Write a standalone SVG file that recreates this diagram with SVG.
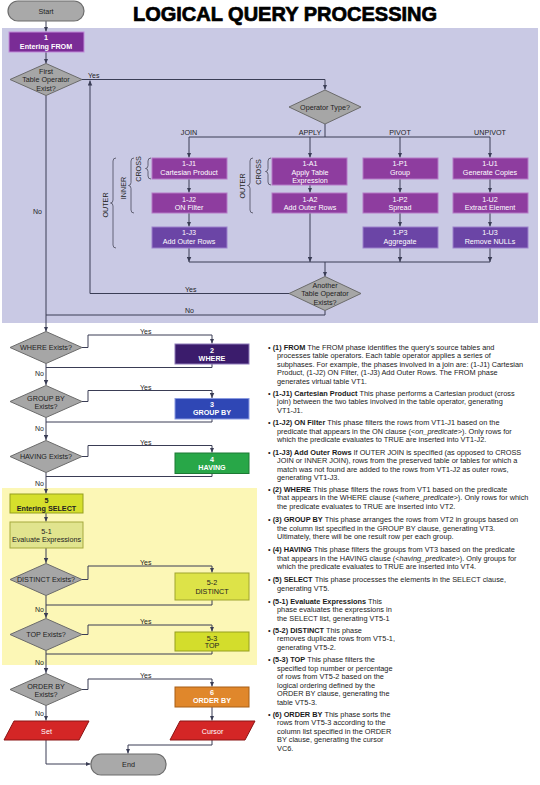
<svg xmlns="http://www.w3.org/2000/svg" width="540" height="785" viewBox="0 0 540 785">
<defs>
<marker id="ah" viewBox="0 0 6 6" refX="6" refY="3" markerWidth="5" markerHeight="5" orient="auto" markerUnits="userSpaceOnUse"><path d="M0,0.3 L6,3 L0,5.7 z" fill="#3a3d55"/></marker>
<style>
text{font-family:"Liberation Sans",Arial,sans-serif}
.c{fill:none;stroke:#3a3d55;stroke-width:1}
.ca{fill:none;stroke:#3a3d55;stroke-width:1;marker-end:url(#ah)}
.dia{fill:#a6a6a6;stroke:#6b6b6b;stroke-width:1}
.term{fill:#a9a9a9;stroke:#6d6d6d;stroke-width:1.2}
.lbl{font-size:7.2px;fill:#1e1e1e;text-anchor:middle}
.pm{fill:#8e3d9f;stroke:#b57ac6;stroke-width:1}
.pb{fill:#6b45a6;stroke:#9d82cc;stroke-width:1}
.wt{font-size:7.2px;fill:#fff;text-anchor:middle}
.wb{font-size:7.2px;fill:#fff;text-anchor:middle;font-weight:bold}
.dk{font-size:7.2px;fill:#222;text-anchor:middle}
.dkb{font-size:7.2px;fill:#222;text-anchor:middle;font-weight:bold}
.side{font-size:7.35px;fill:#1a1a1a}
.yn{font-size:7px;fill:#1e1e1e}
.brace{fill:none;stroke:#4a4a5a;stroke-width:0.8}
.red{fill:#d42626;stroke:#8a1414;stroke-width:1}
</style>
</defs>
<rect x="0" y="0" width="540" height="785" fill="#ffffff"/>
<rect x="2" y="28" width="536" height="295" fill="#c9c9e4"/>
<rect x="2" y="488" width="255" height="177" fill="#fcf7b6"/>
<text x="285" y="21" font-size="20" font-weight="900" text-anchor="middle" fill="#000" stroke="#000" stroke-width="0.7">LOGICAL QUERY PROCESSING</text>

<g id="connectors">
<path class="ca" d="M46,21 V31.5"/>
<path class="ca" d="M46,52 V63.5"/>
<path class="ca" d="M82,79.5 H325 V89.5"/>
<path class="ca" d="M90,293.5 V80.5"/>
<path class="c" d="M325,124 V137 M189,137 H490"/>
<path class="ca" d="M189,137 V157.5"/>
<path class="ca" d="M310,137 V157.5"/>
<path class="ca" d="M400,137 V157.5"/>
<path class="ca" d="M490,137 V157.5"/>
<path class="ca" d="M189,179 V192.5"/>
<path class="ca" d="M189,213 V226.5"/>
<path class="ca" d="M310,185 V192.5"/>
<path class="ca" d="M400,179 V192.5"/>
<path class="ca" d="M400,213 V226.5"/>
<path class="ca" d="M490,179 V192.5"/>
<path class="ca" d="M490,213 V226.5"/>
<path class="c" d="M189,262 H490"/>
<path class="ca" d="M189,248 V262"/>
<path class="ca" d="M310,213 V262"/>
<path class="ca" d="M400,248 V262"/>
<path class="ca" d="M490,248 V262"/>
<path class="ca" d="M325,262 V276.5"/>
<path class="c" d="M289,293.5 H90"/>
<path class="c" d="M325,310.5 V315 H46"/>
<path class="ca" d="M46,95.5 V331.5"/>
<path class="ca" d="M82,347.5 H88 V335 H212 V343.5"/>
<path class="c" d="M212,364 V367.5 H46"/>
<path class="ca" d="M46,363.5 V385"/>
<path class="ca" d="M82,401.5 H88 V390.5 H212 V398"/>
<path class="c" d="M212,419 V422 H46"/>
<path class="ca" d="M46,417.5 V440"/>
<path class="ca" d="M82,456.5 H88 V445.5 H212 V452.5"/>
<path class="c" d="M212,473.5 V476.5 H46"/>
<path class="ca" d="M46,472.5 V493.5"/>
<path class="ca" d="M46,513 V521.5"/>
<path class="ca" d="M46,548 V563"/>
<path class="ca" d="M82,579.5 H88 V566 H212 V572.5"/>
<path class="c" d="M212,600 V605 H46"/>
<path class="ca" d="M46,595.5 V618"/>
<path class="ca" d="M82,634.5 H88 V625 H212 V631.5"/>
<path class="c" d="M212,651 V654 H46"/>
<path class="ca" d="M46,650.5 V673"/>
<path class="ca" d="M82,689.5 H88 V679 H212 V686.5"/>
<path class="ca" d="M46,705.5 V720.5"/>
<path class="ca" d="M212,707 V720.5"/>
<path class="ca" d="M46,740 V764 H90.5"/>
<path class="ca" d="M212,740 V745 H128 V753.5"/>
</g>

<g id="labels">
<text class="yn" x="88" y="78">Yes</text>
<text class="yn" x="33" y="214">No</text>
<text class="yn" x="185" y="292">Yes</text>
<text class="yn" x="185" y="313">No</text>
<text class="yn" x="140" y="334">Yes</text>
<text class="yn" x="35" y="375.5">No</text>
<text class="yn" x="140" y="389.5">Yes</text>
<text class="yn" x="35" y="430.5">No</text>
<text class="yn" x="140" y="444.5">Yes</text>
<text class="yn" x="35" y="485.5">No</text>
<text class="yn" x="140" y="565">Yes</text>
<text class="yn" x="35" y="611.5">No</text>
<text class="yn" x="140" y="624">Yes</text>
<text class="yn" x="35" y="664.5">No</text>
<text class="yn" x="140" y="678">Yes</text>
<text class="yn" x="35" y="715.5">No</text>
<text class="lbl" x="189" y="135">JOIN</text>
<text class="lbl" x="310" y="135">APPLY</text>
<text class="lbl" x="400" y="135">PIVOT</text>
<text class="lbl" x="490" y="135">UNPIVOT</text>
</g>

<g id="braces">
<path class="brace" d="M151,158 Q148,158 148,161 V165.5 Q148,168.5 145.5,168.5 Q148,168.5 148,171.5 V176 Q148,179 151,179"/>
<path class="brace" d="M134,158 Q131,158 131,161 V182.5 Q131,185.5 128.5,185.5 Q131,185.5 131,188.5 V210 Q131,213 134,213"/>
<path class="brace" d="M116,158 Q113,158 113,161 V200 Q113,203 110.5,203 Q113,203 113,206 V245 Q113,248 116,248"/>
<path class="brace" d="M253,158 Q250,158 250,161 V182.5 Q250,185.5 247.5,185.5 Q250,185.5 250,188.5 V210 Q250,213 253,213"/>
<path class="brace" d="M271,158 Q268,158 268,161 V168.5 Q268,171.5 265.5,171.5 Q268,171.5 268,174.5 V182 Q268,185 271,185"/>
<text class="lbl" transform="translate(140.5,169) rotate(-90)">CROSS</text>
<text class="lbl" transform="translate(125.5,188) rotate(-90)">INNER</text>
<text class="lbl" transform="translate(107.5,205) rotate(-90)">OUTER</text>
<text class="lbl" transform="translate(244.5,186) rotate(-90)">OUTER</text>
<text class="lbl" transform="translate(260.5,172) rotate(-90)">CROSS</text>
</g>

<g id="start"><rect class="term" x="8" y="1" width="76" height="20" rx="10"/><text class="lbl" x="46" y="13.5">Start</text></g>
<g id="n1"><rect x="9" y="32" width="75" height="20" fill="#7a2c96" stroke="#c08ad8"/><text class="wb" x="46" y="40">1</text><text class="wb" x="46" y="48.5">Entering FROM</text></g>
<g id="d-first"><polygon class="dia" points="46,63.5 82,79.5 46,95.5 10,79.5"/><text class="lbl" x="46" y="73.5">First</text><text class="lbl" x="46" y="82">Table Operator</text><text class="lbl" x="46" y="90.5">Exist?</text></g>
<g id="d-optype"><polygon class="dia" points="325,90 361,107 325,124 289,107"/><text class="lbl" x="325" y="109.5">Operator Type?</text></g>

<g id="j1"><rect class="pm" x="152" y="158" width="75" height="21"/><text class="wt" x="189" y="166">1-J1</text><text class="wt" x="189" y="175">Cartesian Product</text></g>
<g id="j2"><rect class="pm" x="152" y="193" width="75" height="20"/><text class="wt" x="189" y="201.5">1-J2</text><text class="wt" x="189" y="210">ON Filter</text></g>
<g id="j3"><rect class="pb" x="152" y="227" width="75" height="21"/><text class="wt" x="189" y="235">1-J3</text><text class="wt" x="189" y="244">Add Outer Rows</text></g>
<g id="a1"><rect class="pm" x="272" y="158" width="75" height="27"/><text class="wt" x="310" y="166">1-A1</text><text class="wt" x="310" y="174.5">Apply Table</text><text class="wt" x="310" y="183">Expression</text></g>
<g id="a2"><rect class="pm" x="272" y="193" width="75" height="20"/><text class="wt" x="310" y="201.5">1-A2</text><text class="wt" x="310" y="210">Add Outer Rows</text></g>
<g id="p1"><rect class="pm" x="363" y="158" width="75" height="21"/><text class="wt" x="400" y="166">1-P1</text><text class="wt" x="400" y="175">Group</text></g>
<g id="p2"><rect class="pm" x="363" y="193" width="75" height="20"/><text class="wt" x="400" y="201.5">1-P2</text><text class="wt" x="400" y="210">Spread</text></g>
<g id="p3"><rect class="pb" x="363" y="227" width="75" height="21"/><text class="wt" x="400" y="235">1-P3</text><text class="wt" x="400" y="244">Aggregate</text></g>
<g id="u1"><rect class="pm" x="453" y="158" width="75" height="21"/><text class="wt" x="490" y="166">1-U1</text><text class="wt" x="490" y="175">Generate Copies</text></g>
<g id="u2"><rect class="pm" x="453" y="193" width="75" height="20"/><text class="wt" x="490" y="201.5">1-U2</text><text class="wt" x="490" y="210">Extract Element</text></g>
<g id="u3"><rect class="pb" x="453" y="227" width="75" height="21"/><text class="wt" x="490" y="235">1-U3</text><text class="wt" x="490" y="244">Remove NULLs</text></g>
<g id="d-another"><polygon class="dia" points="325,276.5 361,293.5 325,310.5 289,293.5"/><text class="lbl" x="325" y="287.5">Another</text><text class="lbl" x="325" y="296">Table Operator</text><text class="lbl" x="325" y="304.5">Exists?</text></g>

<g id="d-where"><polygon class="dia" points="46,331.5 82,347.5 46,363.5 10,347.5"/><text class="lbl" x="46" y="350">WHERE Exists?</text></g>
<g id="n2"><rect x="175" y="344" width="74" height="20" fill="#3b1c6c" stroke="#8e7ab8"/><text class="wb" x="212" y="352.5">2</text><text class="wb" x="212" y="361">WHERE</text></g>
<g id="d-group"><polygon class="dia" points="46,385.5 82,401.5 46,417.5 10,401.5"/><text class="lbl" x="46" y="400.5">GROUP BY</text><text class="lbl" x="46" y="409">Exists?</text></g>
<g id="n3"><rect x="175" y="398.5" width="74" height="20.5" fill="#2f47b5" stroke="#8a9ae0"/><text class="wb" x="212" y="406.5">3</text><text class="wb" x="212" y="415">GROUP BY</text></g>
<g id="d-having"><polygon class="dia" points="46,440.5 82,456.5 46,472.5 10,456.5"/><text class="lbl" x="46" y="459">HAVING Exists?</text></g>
<g id="n4"><rect x="175" y="453" width="74" height="20.5" fill="#28a748" stroke="#1c7a34"/><text class="wb" x="212" y="461.5">4</text><text class="wb" x="212" y="470">HAVING</text></g>

<g id="n5"><rect x="10" y="494" width="73" height="19" fill="#d5df2c" stroke="#959f1e"/><text class="dkb" x="46.5" y="502.5">5</text><text class="dkb" x="46.5" y="510.5">Entering SELECT</text></g>
<g id="n5-1"><rect x="10" y="522" width="73" height="26" fill="#e1e48e" stroke="#a5aa3e"/><text class="dk" x="46.5" y="533.5">5-1</text><text class="dk" x="46.5" y="542">Evaluate Expressions</text></g>
<g id="d-distinct"><polygon class="dia" points="46,563.5 82,579.5 46,595.5 10,579.5"/><text class="lbl" x="46" y="582">DISTINCT Exists?</text></g>
<g id="n5-2"><rect x="175" y="573" width="74" height="27" fill="#dde348" stroke="#a0a52e"/><text class="dk" x="212" y="585">5-2</text><text class="dk" x="212" y="593.5">DISTINCT</text></g>
<g id="d-top"><polygon class="dia" points="46,618.5 82,634.5 46,650.5 10,634.5"/><text class="lbl" x="46" y="637">TOP Exists?</text></g>
<g id="n5-3"><rect x="175" y="632" width="74" height="19" fill="#d3dd2c" stroke="#959f1e"/><text class="dk" x="212" y="640.5">5-3</text><text class="dk" x="212" y="648">TOP</text></g>
<g id="d-order"><polygon class="dia" points="46,673.5 82,689.5 46,705.5 10,689.5"/><text class="lbl" x="46" y="689">ORDER BY</text><text class="lbl" x="46" y="697">Exists?</text></g>
<g id="n6"><rect x="175" y="687" width="74" height="20" fill="#e0872b" stroke="#a85e16"/><text class="wb" x="212" y="694.5">6</text><text class="wb" x="212" y="703">ORDER BY</text></g>
<g id="set"><polygon class="red" points="14,721 89,721 79,740 4,740"/><text class="wt" x="46.5" y="733.5" fill="#ffd8d8">Set</text></g>
<g id="cursor"><polygon class="red" points="180,721 255,721 245,740 170,740"/><text class="wt" x="212.5" y="733.5">Cursor</text></g>
<g id="end"><rect class="term" x="91" y="754" width="75" height="21" rx="10"/><text class="lbl" x="128.5" y="767">End</text></g>

<g id="notes" class="side">
<text class="side" y="349.5"><tspan x="268">• </tspan><tspan font-weight="bold">(1) FROM</tspan><tspan dx="2">The FROM phase identifies the query's source tables and</tspan><tspan x="277" dy="8.5">processes table operators. Each table operator applies a series of</tspan><tspan x="277" dy="8.5">subphases. For example, the phases involved in a join are: (1-J1) Cartesian</tspan><tspan x="277" dy="8.5">Product, (1-J2) ON Filter, (1-J3) Add Outer Rows. The FROM phase</tspan><tspan x="277" dy="8.5">generates virtual table VT1.</tspan></text>
<text class="side" y="395.5"><tspan x="268">• </tspan><tspan font-weight="bold">(1-J1) Cartesian Product</tspan><tspan dx="2">This phase performs a Cartesian product (cross</tspan><tspan x="277" dy="8.5">join) between the two tables involved in the table operator, generating</tspan><tspan x="277" dy="8.5">VT1-J1.</tspan></text>
<text class="side" y="425"><tspan x="268">• </tspan><tspan font-weight="bold">(1-J2) ON Filter</tspan><tspan dx="2">This phase filters the rows from VT1-J1 based on the</tspan><tspan x="277" dy="8.5">predicate that appears in the ON clause (&lt;</tspan><tspan font-style="italic">on_predicate</tspan><tspan>&gt;). Only rows for</tspan><tspan x="277" dy="8.5">which the predicate evaluates to TRUE are inserted into VT1-J2.</tspan></text>
<text class="side" y="454.5"><tspan x="268">• </tspan><tspan font-weight="bold">(1-J3) Add Outer Rows</tspan><tspan dx="2">If OUTER JOIN is specified (as opposed to CROSS</tspan><tspan x="277" dy="8.5">JOIN or INNER JOIN), rows from the preserved table or tables for which a</tspan><tspan x="277" dy="8.5">match was not found are added to the rows from VT1-J2 as outer rows,</tspan><tspan x="277" dy="8.5">generating VT1-J3.</tspan></text>
<text class="side" y="491.5"><tspan x="268">• </tspan><tspan font-weight="bold">(2) WHERE</tspan><tspan dx="2">This phase filters the rows from VT1 based on the predicate</tspan><tspan x="277" dy="8.5">that appears in the WHERE clause (&lt;</tspan><tspan font-style="italic">where_predicate</tspan><tspan>&gt;). Only rows for which</tspan><tspan x="277" dy="8.5">the predicate evaluates to TRUE are inserted into VT2.</tspan></text>
<text class="side" y="522"><tspan x="268">• </tspan><tspan font-weight="bold">(3) GROUP BY</tspan><tspan dx="2">This phase arranges the rows from VT2 in groups based on</tspan><tspan x="277" dy="8.5">the column list specified in the GROUP BY clause, generating VT3.</tspan><tspan x="277" dy="8.5">Ultimately, there will be one result row per each group.</tspan></text>
<text class="side" y="552"><tspan x="268">• </tspan><tspan font-weight="bold">(4) HAVING</tspan><tspan dx="2">This phase filters the groups from VT3 based on the predicate</tspan><tspan x="277" dy="8.5">that appears in the HAVING clause (&lt;</tspan><tspan font-style="italic">having_predicate</tspan><tspan>&gt;). Only groups for</tspan><tspan x="277" dy="8.5">which the predicate evaluates to TRUE are inserted into VT4.</tspan></text>
<text class="side" y="582"><tspan x="268">• </tspan><tspan font-weight="bold">(5) SELECT</tspan><tspan dx="2">This phase processes the elements in the SELECT clause,</tspan><tspan x="277" dy="8.5">generating VT5.</tspan></text>
<text class="side" y="603.5"><tspan x="268">• </tspan><tspan font-weight="bold">(5-1) Evaluate Expressions</tspan><tspan dx="2">This</tspan><tspan x="277" dy="8.5">phase evaluates the expressions in</tspan><tspan x="277" dy="8.5">the SELECT list, generating VT5-1</tspan></text>
<text class="side" y="632.5"><tspan x="268">• </tspan><tspan font-weight="bold">(5-2) DISTINCT</tspan><tspan dx="2">This phase</tspan><tspan x="277" dy="8.5">removes duplicate rows from VT5-1,</tspan><tspan x="277" dy="8.5">generating VT5-2.</tspan></text>
<text class="side" y="662"><tspan x="268">• </tspan><tspan font-weight="bold">(5-3) TOP</tspan><tspan dx="2">This phase filters the</tspan><tspan x="277" dy="8.5">specified top number or percentage</tspan><tspan x="277" dy="8.5">of rows from VT5-2 based on the</tspan><tspan x="277" dy="8.5">logical ordering defined by the</tspan><tspan x="277" dy="8.5">ORDER BY clause, generating the</tspan><tspan x="277" dy="8.5">table VT5-3.</tspan></text>
<text class="side" y="716.5"><tspan x="268">• </tspan><tspan font-weight="bold">(6) ORDER BY</tspan><tspan dx="2">This phase sorts the</tspan><tspan x="277" dy="8.5">rows from VT5-3 according to the</tspan><tspan x="277" dy="8.5">column list specified in the ORDER</tspan><tspan x="277" dy="8.5">BY clause, generating the cursor</tspan><tspan x="277" dy="8.5">VC6.</tspan></text>
</g>
</svg>
